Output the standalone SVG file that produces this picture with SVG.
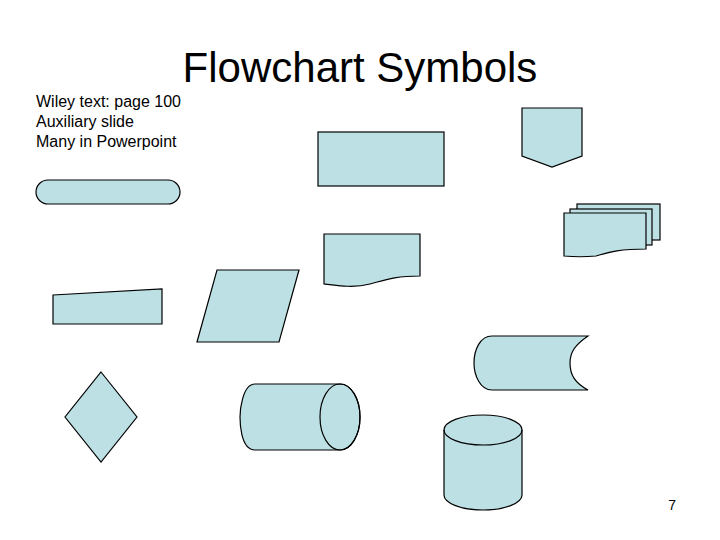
<svg xmlns="http://www.w3.org/2000/svg" width="720" height="540" viewBox="0 0 720 540">
<style>
.s{fill:#bde0e4;stroke:#000;stroke-width:1.2}
.n{fill:none;stroke:#000;stroke-width:1.2}
text{font-family:"Liberation Sans",Arial,sans-serif;fill:#000}
</style>
<rect width="720" height="540" fill="#fff"/>
<text x="360" y="82" font-size="42" text-anchor="middle">Flowchart Symbols</text>
<text x="36" y="107" font-size="16">Wiley text: page 100</text>
<text x="36" y="127" font-size="16">Auxiliary slide</text>
<text x="36" y="147" font-size="16">Many in Powerpoint</text>
<text x="676" y="510" font-size="14" text-anchor="end">7</text>
<g id="offpage"><path class="s" d="M522,108H582V156L552,167L522,156Z"/></g>
<g id="multidoc">
<rect class="s" x="577" y="204" width="83" height="36"/>
<rect class="s" x="570" y="209" width="82" height="36"/>
<path class="s" d="M564,213H646V249C620,249 610,252 596,256C585,257 575,257 564,256Z"/>
</g>
<g id="process"><rect class="s" x="318" y="132" width="126" height="54"/></g>
<g id="terminator"><rect class="s" x="36" y="180" width="144" height="24" rx="12"/></g>
<g id="document"><path class="s" d="M324,234H420V276C395,276 385,280 370,284C355,288 340,286 324,284Z"/></g>
<g id="manualinput"><path class="s" d="M53,295L162,289V324H53Z"/></g>
<g id="data"><path class="s" d="M217,270H299L279,342H197Z"/></g>
<g id="decision"><path class="s" d="M101,372L137,417L101,462L65,417Z"/></g>
<g id="directaccess">
<path class="s" d="M255,384H340A20,33 0 0 1 340,450H255C240,450 240,420 240,417C240,412 242,384 255,384Z"/>
<ellipse class="n" cx="340" cy="417" rx="20" ry="33"/>
</g>
<g id="storeddata"><path class="s" d="M492,336H588C575,345 570,352 570,363C570,375 575,383 588,390H492C480,390 474,375 474,363C474,350 480,336 492,336Z"/></g>
<g id="magdisk">
<path class="s" d="M444,430A39,15 0 0 1 522,430V495A39,15 0 0 1 444,495Z"/>
<path class="n" d="M444,430A39,15 0 0 0 522,430"/>
</g>
</svg>
